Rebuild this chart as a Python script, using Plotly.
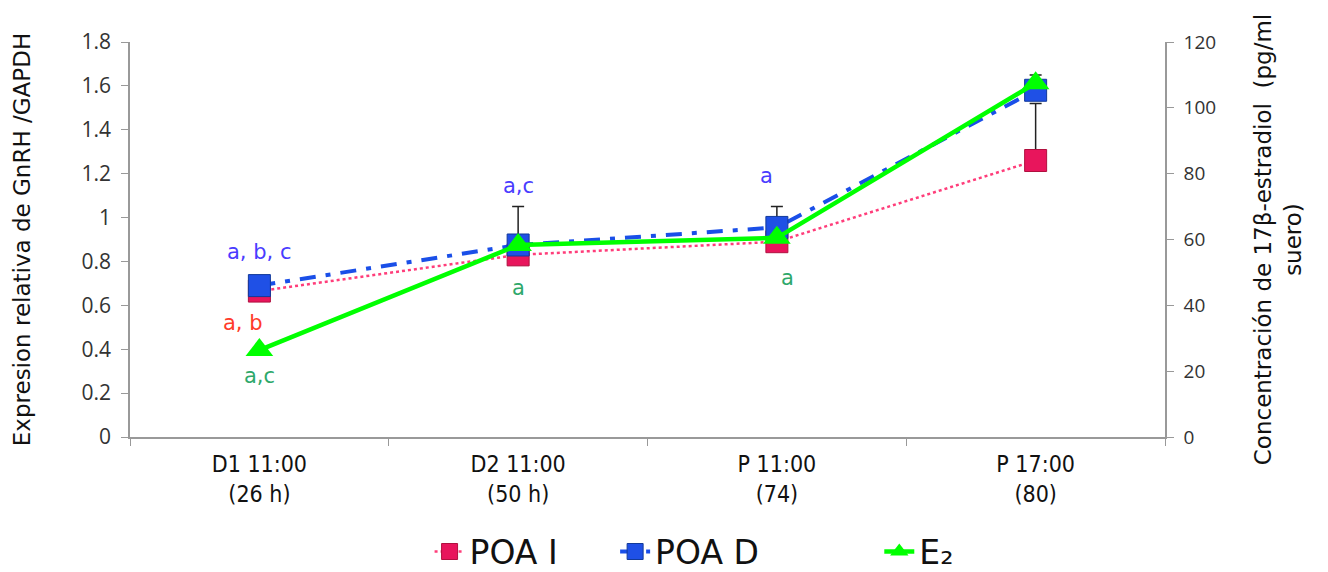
import plotly.graph_objects as go

categories = ["D1 11:00<br>(26 h)", "D2 11:00<br>(50 h)", "P 11:00<br>(74)", "P 17:00<br>(80)"]
poa_i = [0.665, 0.83, 0.89, 1.26]
poa_i_err = [0, 0, 0, 0.26]
poa_d = [0.69, 0.875, 0.955, 1.58]
poa_d_err = [0, 0.175, 0.095, 0.07]
e2 = [26.4, 58.3, 60.5, 107.5]

FONT = "Liberation Sans Narrow, DejaVu Sans Condensed, Arial Narrow, DejaVu Sans, sans-serif"
TFONT = "DejaVu Sans, Verdana, sans-serif"
NFONT = "Open Sans, DejaVu Sans, sans-serif"

BLUE_T = "#4a3cff"
RED_T = "#ff3b2a"
GREEN_T = "#2ea86a"

fig = go.Figure()
fig.add_trace(go.Scatter(
    x=categories, y=poa_i, name="POA I" + "\u00a0" * 5, mode="lines+markers",
    line=dict(color="#ff3d7a", width=2.5, dash="dot"),
    marker=dict(symbol="square", size=22, color="#e8155c", line=dict(color="#b0103f", width=1)),
    error_y=dict(type="data", array=poa_i_err, symmetric=False, arrayminus=[0]*4,
                 color="#222", thickness=1.5, width=6),
))
fig.add_trace(go.Scatter(
    x=categories, y=poa_d, name="POA D" + "\u00a0" * 11, mode="lines+markers",
    line=dict(color="#1a4fe8", width=4, dash="16px,10px,5px,10px"),
    marker=dict(symbol="square", size=22, color="#1f50e6", line=dict(color="#123a9a", width=1)),
    error_y=dict(type="data", array=poa_d_err, symmetric=False, arrayminus=[0]*4,
                 color="#222", thickness=1.5, width=6),
))
fig.add_trace(go.Scatter(
    x=categories, y=e2, name="E₂", mode="lines+markers", yaxis="y2",
    line=dict(color="#00ff00", width=4.5),
    marker=dict(symbol="triangle-up", size=24, color="#00ff00"),
))

ann = [
    (0, 0, 0.845, "a, b, c", BLUE_T),
    (0, -16, 0.52, "a, b", RED_T),
    (0, 0, 0.278, "a,c", GREEN_T),
    (1, 0, 1.144, "a,c", BLUE_T),
    (1, 0, 0.68, "a", GREEN_T),
    (2, -10, 1.19, "a", BLUE_T),
    (2, 11, 0.725, "a", GREEN_T),
]
annotations = []
for xi, dx, yv, txt, col in ann:
    annotations.append(dict(x=xi, y=yv, xref="x", yref="y", xshift=dx, text=txt,
                            showarrow=False, font=dict(family=TFONT, size=21, color=col)))

fig.update_layout(
    width=1328, height=572,
    paper_bgcolor="white", plot_bgcolor="white",
    margin=dict(l=122, r=171, t=34, b=143, autoexpand=False),
    font=dict(family=TFONT, color="#222"),
    showlegend=True,
    legend=dict(orientation="h", x=0.545, xanchor="center", y=-0.29, yanchor="middle",
                font=dict(family=TFONT, size=33, color="#111"),
                bgcolor="rgba(0,0,0,0)"),
    annotations=annotations,
    xaxis=dict(type="category", tickson="boundaries", ticks="outside", ticklen=7,
               tickcolor="#999", showline=True, linecolor="#999", linewidth=1.5,
               showgrid=False, tickfont=dict(family=FONT, size=23, color="#111"),
               range=[-0.5, 3.5], automargin=False, ticklabelstandoff=6),
    yaxis=dict(range=[0, 1.8], dtick=0.2, ticks="outside", ticklen=7, tickcolor="#999",
               showline=True, linecolor="#999", linewidth=1.5, showgrid=False, zeroline=False,
               tickfont=dict(family=NFONT, size=21, color="#333"), automargin=False,
               ticklabelstandoff=6,
               title=dict(text="Expresion relativa de GnRH /GAPDH",
                          font=dict(family=TFONT, size=23, color="#111"), standoff=44)),
    yaxis2=dict(range=[0, 120], dtick=20, overlaying="y", side="right", ticks="outside",
                ticklen=7, tickcolor="#999", showline=True, linecolor="#999", linewidth=1.5,
                showgrid=False, zeroline=False, automargin=False,
                tickfont=dict(family=NFONT, size=19, color="#333"), ticklabelstandoff=6,
                title=dict(text="Concentración de 17β-estradiol  (pg/ml<br>suero)",
                           font=dict(family=TFONT, size=23, color="#111"), standoff=40)),
)

fig.write_html("out.html")
